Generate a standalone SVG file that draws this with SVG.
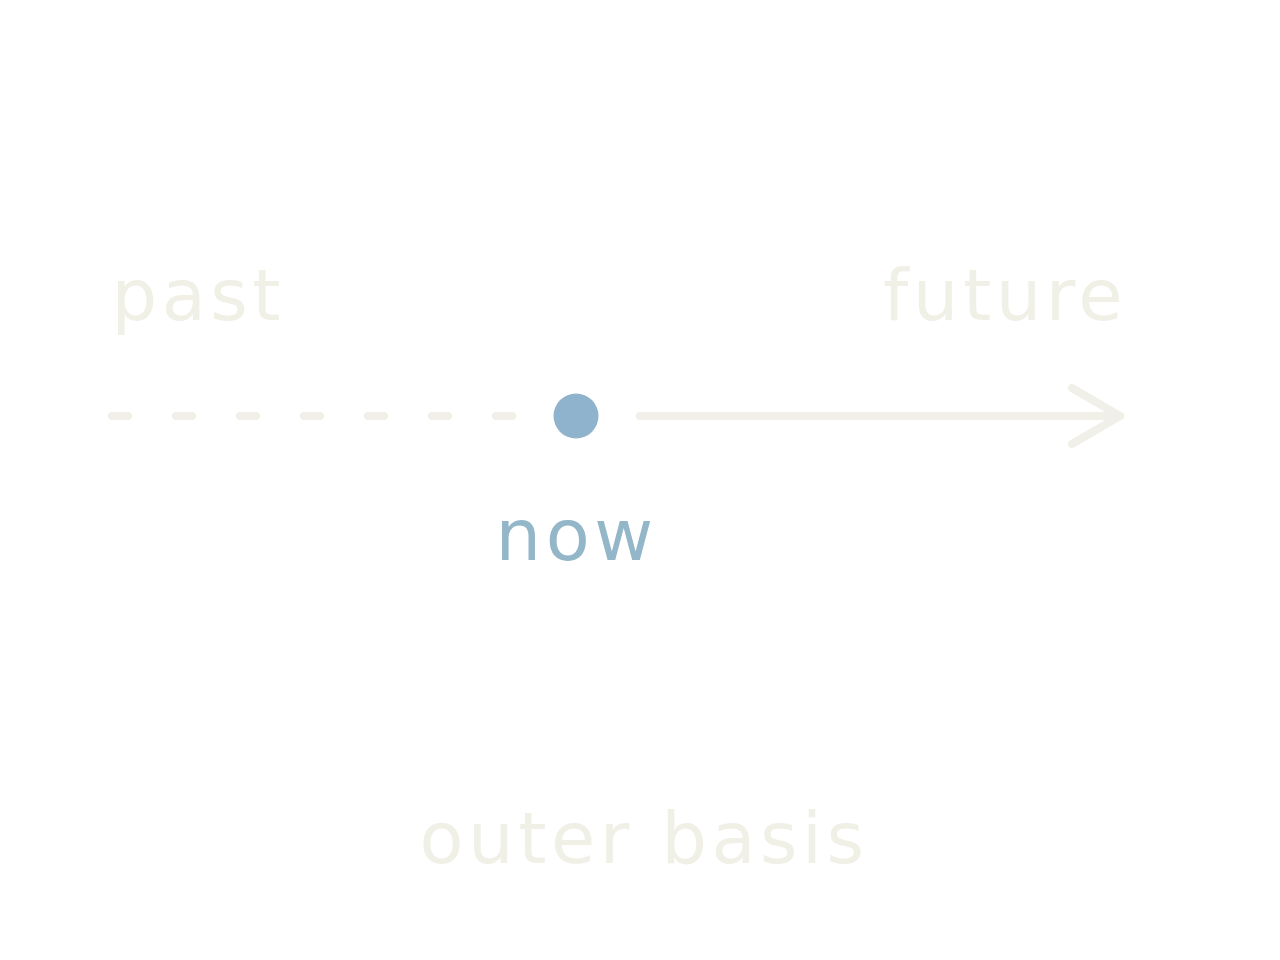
<svg xmlns="http://www.w3.org/2000/svg" width="1280" height="960" viewBox="0 0 1280 960">
  <style>
    .lbl { font-family: "DejaVu Sans", "Liberation Sans", sans-serif; font-size: 72px; letter-spacing: 4.5px; fill: #f0f0e7; }
    .now { fill: #93b6c9; }
    .ln { stroke: #f0efe8; stroke-width: 8; stroke-linecap: round; stroke-linejoin: round; fill: none; }
  </style>
  <rect width="1280" height="960" fill="#ffffff"/>
  <g id="connectors">
    <line class="ln" x1="112" y1="416" x2="512" y2="416" stroke-dasharray="16 48"/>
    <line class="ln" x1="640" y1="416" x2="1120" y2="416"/>
    <polyline class="ln" points="1072,388 1120,416 1072,444"/>
  </g>
  <g id="past">
    <text class="lbl" x="111.5" y="320">past</text>
  </g>
  <g id="future">
    <text class="lbl" x="883" y="320">future</text>
  </g>
  <g id="now">
    <circle cx="576" cy="416" r="22.5" fill="#90b3cd"/>
    <text class="lbl now" x="495.5" y="560">now</text>
  </g>
  <g id="outer-basis">
    <text class="lbl" x="419.5" y="863">outer basis</text>
  </g>
</svg>
